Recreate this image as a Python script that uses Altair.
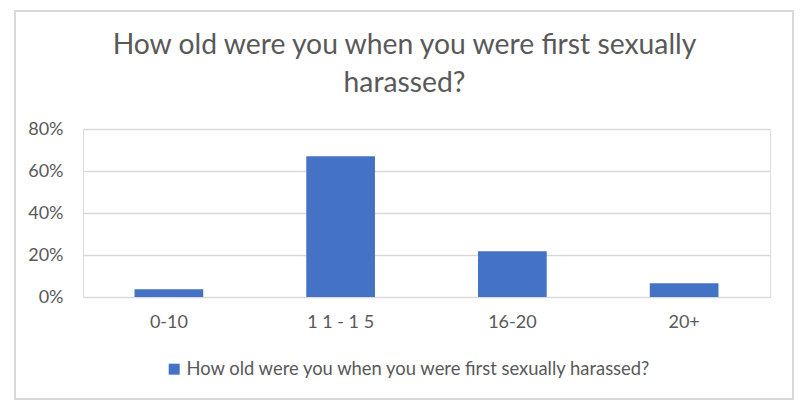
import altair as alt
import pandas as pd

categories = ["0-10", "1 1  - 1 5", "16-20", "20+"]
values = [0.037, 0.67, 0.218, 0.065]
series_name = "How old were you when you were first sexually harassed?"
title_lines = ["How old were you when you were first sexually", "harassed?"]
y_ticks = [0, 0.2, 0.4, 0.6, 0.8]

df = pd.DataFrame({"age": categories, "share": values, "series": [series_name] * len(categories)})

GRAY = "#595959"
GRID = "#d9d9d9"
FONT = "Lato"

bars = alt.Chart(df).mark_bar(color="#4472C4").encode(
    x=alt.X("age:N", sort=categories, title=None,
            scale=alt.Scale(paddingInner=0.6, paddingOuter=0.3),
            axis=alt.Axis(labelAngle=0, labelFontSize=18, labelFont=FONT, labelColor=GRAY,
                          ticks=False, domain=False, labelPadding=16)),
    y=alt.Y("share:Q", title=None,
            scale=alt.Scale(domain=[0, 0.8]),
            axis=alt.Axis(values=y_ticks, format=".0%", labelFontSize=18, labelFont=FONT,
                          labelColor=GRAY, ticks=False, domain=False, grid=True,
                          gridColor=GRID, gridWidth=1.3, labelPadding=20)),
    color=alt.Color("series:N", scale=alt.Scale(range=["#4472C4"]),
                    legend=alt.Legend(title=None, orient="none", legendX=82, legendY=231,
                                      symbolType="square", symbolSize=121, symbolStrokeWidth=0,
                                      labelFontSize=18.4, labelFont=FONT, labelColor=GRAY,
                                      labelOffset=3, labelLimit=800)),
)

border = alt.Chart(df).mark_rect(fill=None, stroke=GRID, strokeWidth=1.5).encode(
    x=alt.value(-68), x2=alt.value(710), y=alt.value(-118), y2=alt.value(270)
)

chart = alt.layer(border, bars).properties(
    width=687, height=168,
    title=alt.TitleParams(text=title_lines, fontSize=28.3, font=FONT, color=GRAY,
                          fontWeight="normal", anchor="middle", dx=-22, offset=-88,
                          lineHeight=38),
    autosize=alt.AutoSizeParams(type="none"),
    padding={"left": 75, "top": 121, "right": 30, "bottom": 110},
).configure_view(stroke=None).configure(background="white")

chart.save("out.html", embed_options={"renderer": "svg", "actions": False})
